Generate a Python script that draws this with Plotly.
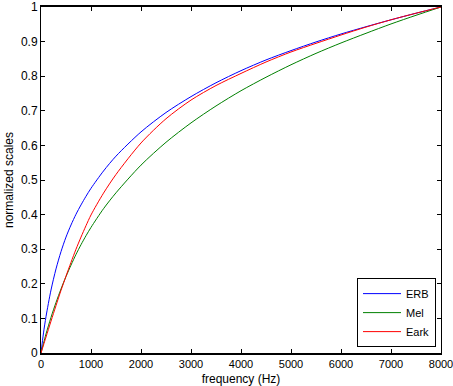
import plotly.graph_objects as go

freq = [0, 50, 100, 200, 300, 400, 500, 600, 700, 800, 900, 1000, 1250, 1500, 2000, 2500,
        3000, 3500, 4000, 4500, 5000, 5500, 6000, 6500, 7000, 7500, 8000]
erb = [0, 0.058, 0.105, 0.182, 0.243, 0.293, 0.335, 0.370, 0.401, 0.428, 0.453, 0.476,
       0.526, 0.569, 0.639, 0.695, 0.741, 0.781, 0.816, 0.847, 0.874, 0.899, 0.922, 0.943,
       0.963, 0.982, 1.0]
mel = [0, 0.028, 0.055, 0.103, 0.146, 0.185, 0.221, 0.254, 0.285, 0.313, 0.339, 0.363,
       0.417, 0.463, 0.543, 0.609, 0.665, 0.714, 0.758, 0.797, 0.833, 0.866, 0.896, 0.924,
       0.951, 0.976, 1.0]
bark = [0, 0.023, 0.046, 0.092, 0.137, 0.181, 0.222, 0.262, 0.300, 0.335, 0.368, 0.399,
        0.462, 0.516, 0.607, 0.677, 0.731, 0.773, 0.808, 0.841, 0.870, 0.895, 0.919, 0.942,
        0.963, 0.982, 1.0]
xticks = [0, 1000, 2000, 3000, 4000, 5000, 6000, 7000, 8000]
yticks = [0, 0.1, 0.2, 0.3, 0.4, 0.5, 0.6, 0.7, 0.8, 0.9, 1]
ylabels = ["0", "0.1", "0.2", "0.3", "0.4", "0.5", "0.6", "0.7", "0.8", "0.9", "1"]

series = [("ERB", erb, "#0000ff"), ("Mel", mel, "#008000"), ("Eark", bark, "#ff0000")]

fig = go.Figure()
for name, vals, col in series:
    fig.add_trace(go.Scatter(x=freq, y=vals, mode="lines", name=name,
                             line=dict(color=col, width=1, shape="spline", smoothing=0.8)))

font = dict(family="Liberation Sans, Arial, sans-serif", size=12, color="black")
fig.update_layout(
    width=453, height=386,
    margin=dict(l=41, r=12, t=7, b=33, autoexpand=False),
    paper_bgcolor="white", plot_bgcolor="white",
    font=font,
    showlegend=True,
    legend=dict(x=0.9875, y=0.017, xanchor="right", yanchor="bottom",
                bgcolor="white", bordercolor="black", borderwidth=1,
                font=dict(size=11, color="black"), tracegroupgap=0,
                itemwidth=38),
    xaxis=dict(range=[0, 8000], tickvals=xticks, ticklabeloverflow="allow", automargin=False,
               tickfont=dict(size=11),
               ticks="inside", ticklen=4, tickcolor="black", showgrid=False, zeroline=False,
               showline=True, linecolor="black", linewidth=2, mirror="ticks",
               title=dict(text="frequency (Hz)", standoff=6, font=dict(size=12))),
    yaxis=dict(range=[0, 1], tickvals=yticks, ticktext=ylabels, ticklabeloverflow="allow",
               automargin=False,
               ticks="inside", ticklen=4, tickcolor="black", showgrid=False, zeroline=False,
               showline=True, linecolor="black", linewidth=1, mirror="ticks",
               title=dict(text="normalized scales", standoff=4, font=dict(size=12))),
)
fig.write_html("out.html")
